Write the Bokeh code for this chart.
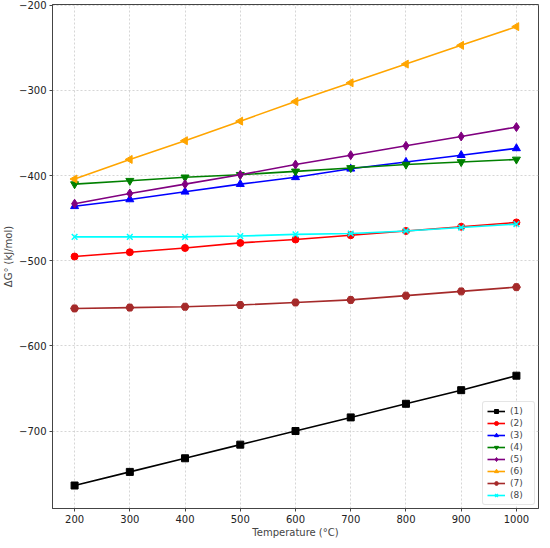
from bokeh.plotting import figure
from bokeh.models import Range1d, Legend, LegendItem, FixedTicker
from bokeh.embed import file_html
from bokeh.resources import INLINE
import math

temps = [200, 300, 400, 500, 600, 700, 800, 900, 1000]
s1 = [-764, -748, -732, -716, -700, -684, -668, -652, -635]
s2 = [-495, -490, -485, -479, -475, -470, -465, -460, -455]
s3 = [-436, -428, -419, -410, -402, -392, -384, -376, -368]
s4 = [-410, -406, -402, -399, -395, -391, -387, -384, -381]
s5 = [-433, -421, -410, -399, -387, -376, -365, -354, -343]
s6 = [-404, -381, -359, -336, -313, -291, -269, -247, -225]
s7 = [-556, -555, -554, -552, -549, -546, -541, -536, -531]
s8 = [-472, -472, -472, -471, -469, -468, -465, -461, -457]

labels = ["(1)", "(2)", "(3)", "(4)", "(5)", "(6)", "(7)", "(8)"]
series = [s1, s2, s3, s4, s5, s6, s7, s8]
colors = ["black", "red", "blue", "green", "purple", "orange", "brown", "cyan"]
markers = ["square", "circle", "triangle", "inverted_triangle", "diamond", "triangle", "hex", "x"]
angles = [0, 0, 0, 0, 0, math.pi / 2, 0, 0]
sizes = [7, 7, 8, 8, 9, 8, 8, 8]

yticks = [-700, -600, -500, -400, -300, -200]
xticks = [200, 300, 400, 500, 600, 700, 800, 900, 1000]

p = figure(width=542, height=540, output_backend="svg", toolbar_location=None,
           x_range=Range1d(160, 1040), y_range=Range1d(-791, -199),
           min_border_left=0, min_border_right=4, min_border_top=4, min_border_bottom=0)

p.outline_line_color = "#444444"
p.outline_line_width = 1

items = []
for lab, ys, c, m, a, sz in zip(labels, series, colors, markers, angles, sizes):
    r1 = p.line(temps, ys, line_color=c, line_width=1.6)
    r2 = p.scatter(temps, ys, marker=m, size=sz, angle=a, fill_color=c, line_color=c,
                   line_width=1.5 if m == "x" else 1)
    items.append(LegendItem(label=lab, renderers=[r1, r2]))

legend = Legend(items=items, location="bottom_right")
legend.label_text_font = "DejaVu Sans"
legend.label_text_font_size = "9px"
legend.label_height = 10
legend.glyph_height = 10
legend.glyph_width = 18
legend.spacing = 2
legend.padding = 4
legend.margin = 3
legend.border_line_color = "#cccccc"
legend.border_radius = 3
legend.background_fill_alpha = 0.9
p.add_layout(legend)

for ax in (p.xaxis, p.yaxis):
    ax.major_label_text_font = "DejaVu Sans"
    ax.major_label_text_font_size = "10px"
    ax.major_label_text_color = "#222222"
    ax.axis_label_text_font = "DejaVu Sans"
    ax.axis_label_text_font_size = "10px"
    ax.axis_label_text_font_style = "normal"
    ax.axis_line_color = "#444444"
    ax.major_tick_line_color = "#444444"
    ax.major_tick_out = 3
    ax.major_tick_in = 0
    ax.major_label_standoff = 3
    ax.minor_tick_line_color = None

p.xaxis.ticker = FixedTicker(ticks=xticks)
p.yaxis.ticker = FixedTicker(ticks=yticks)
p.yaxis.major_label_overrides = {t: "\u2212" + str(abs(t)) for t in yticks}
p.xaxis.axis_label = "Temperature (°C)"
p.yaxis.axis_label = "ΔG° (kJ/mol)"
p.xaxis.axis_label_standoff = 1
p.yaxis.axis_label_standoff = 2

p.xgrid.grid_line_color = "#cccccc"
p.ygrid.grid_line_color = "#cccccc"
p.xgrid.grid_line_dash = "2 2"
p.ygrid.grid_line_dash = "2 2"
p.xgrid.grid_line_alpha = 0.8
p.ygrid.grid_line_alpha = 0.8

open("out.html", "w").write(file_html(p, INLINE))
